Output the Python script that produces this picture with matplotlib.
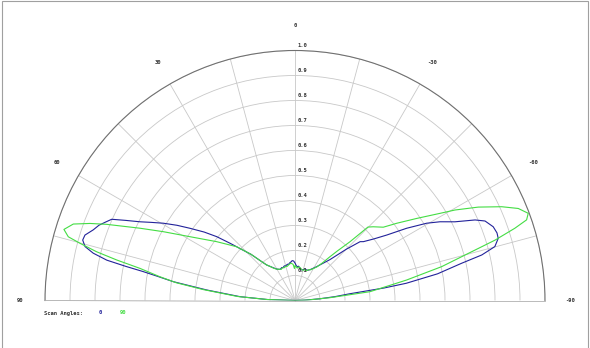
import numpy as np
import matplotlib
matplotlib.use("Agg")
import matplotlib.pyplot as plt
from matplotlib.patches import Rectangle

# scan angle 0 (blue): angle in degrees, relative intensity
theta_0 = [-90, -88, -86, -84.5, -83, -82, -81.2, -79.4, -77.4, -76.3, -74.9, -73.0, -71.5,
           -69.6, -67.3, -65.9, -63.8, -61.5, -59.6, -57.1, -54.5, -52, -49.3, -47.9, -45,
           -40.5, -36, -32.7, -30, -27, -24, -21, -18, -15, -12, -9, -6, -4, -2, 0,
           2, 4, 6, 8, 10, 12, 15, 17, 20, 22, 25, 27, 30, 33, 36, 38.6, 41, 43.6,
           46.5, 48.6, 50.8, 53, 55.5, 57.5, 59.6, 61.5, 63.1, 64.7, 66.1, 67.5, 69,
           70.7, 72.7, 74.1, 75.6, 76.8, 77.9, 78.6, 79.2, 80, 81.2, 83.2, 86, 88, 90]
r_0 = [0, 0.04, 0.1, 0.16, 0.22, 0.36, 0.45, 0.58, 0.683, 0.769, 0.828, 0.85, 0.852,
       0.846, 0.824, 0.789, 0.713, 0.66, 0.611, 0.532, 0.451, 0.40, 0.361, 0.351, 0.29,
       0.215, 0.18, 0.161, 0.15, 0.14, 0.133, 0.13, 0.133, 0.128, 0.125, 0.13, 0.138, 0.135, 0.14, 0.15,
       0.158, 0.16, 0.155, 0.152, 0.147, 0.148, 0.143, 0.145, 0.14, 0.142, 0.138, 0.14, 0.145, 0.155, 0.168, 0.182, 0.21, 0.255,
       0.30, 0.346, 0.404, 0.455, 0.51, 0.56, 0.611, 0.655, 0.696, 0.75, 0.802, 0.82, 0.84,
       0.855, 0.88, 0.883, 0.867, 0.829, 0.77, 0.69, 0.62, 0.56, 0.493, 0.356, 0.221, 0.11, 0]

# scan angle 90 (green)
theta_90 = [-90, -88, -85.4, -83.3, -79.6, -77, -74.8, -73.2, -71.8, -70.8, -69.5, -67.6,
            -65.6, -63, -60.5, -59, -56, -52.8, -50.3, -46.7, -44.8, -43.1, -40.5, -38.6,
            -36, -33, -30, -27, -24, -21, -18, -15, -12, -9, -6, -4, -2, 0, 1, 3, 6, 8,
            10, 13, 15, 18, 21, 24, 27, 30, 33, 36, 38.6, 41, 43.6, 47.3, 53.1, 58.7, 62.4,
            65.0, 67.97, 69.4, 70.97, 72.9, 74.3, 75.1, 76.2, 77.2, 78.3, 80, 81.5, 83.2, 86, 88, 90]
r_90 = [0, 0.05, 0.14, 0.302, 0.454, 0.602, 0.718, 0.836, 0.926, 0.981, 0.996, 0.966,
        0.908, 0.823, 0.735, 0.677, 0.587, 0.511, 0.459, 0.43, 0.414, 0.322, 0.26, 0.224,
        0.185, 0.16, 0.148, 0.138, 0.135, 0.128, 0.13, 0.125, 0.127, 0.133, 0.135, 0.13, 0.135, 0.14, 0.128, 0.145, 0.15, 0.148,
        0.145, 0.14, 0.142, 0.138, 0.14, 0.136, 0.14, 0.145, 0.153, 0.168, 0.182, 0.21, 0.255, 0.317, 0.392, 0.491, 0.594,
        0.684, 0.812, 0.876, 0.938, 0.967, 0.942, 0.89, 0.817, 0.731, 0.633, 0.55, 0.48, 0.37, 0.23, 0.11, 0]

r_ticks = [0.1, 0.2, 0.3, 0.4, 0.5, 0.6, 0.7, 0.8, 0.9, 1.0]
angle_labels = [0, 30, 60, 90, -30, -60, -90]

blue = '#22229a'
green = '#44dd44'
txt = dict(fontsize=4, family='DejaVu Sans Mono', fontweight='bold', color='#333333')

fig = plt.figure(figsize=(5.9, 3.48), dpi=100)
# square box: the half-disc is fitted into its middle band
ax = fig.add_axes([45 / 590, -77.5 / 348, 500 / 590, 500 / 348], projection='polar')
ax.set_theta_zero_location('N')
ax.set_theta_direction(1)
ax.set_thetamin(-90)
ax.set_thetamax(90)
ax.set_ylim(0, 1)

ax.set_xticks(np.deg2rad(np.arange(-90, 91, 15)))
ax.set_xticklabels([])
ax.set_yticks(r_ticks)
ax.set_yticklabels([])
ax.grid(color='#c8c8c8', linewidth=0.6)
ax.spines['polar'].set_color('#707070')
ax.spines['polar'].set_linewidth(0.8)
ax.spines['start'].set_color('#b0b0b0')
ax.spines['end'].set_color('#b0b0b0')
ax.spines['start'].set_linewidth(0.6)
ax.spines['end'].set_linewidth(0.6)

ax.plot(np.deg2rad(theta_0), r_0, color=blue, linewidth=0.8)
ax.plot(np.deg2rad(theta_90), r_90, color=green, linewidth=0.8)

for r in r_ticks:
    ax.annotate('%.1f' % r, xy=(0, r), xytext=(2, 3.5), textcoords='offset points',
                ha='left', va='center', **txt)
for a in angle_labels:
    ax.text(np.deg2rad(a), 1.1, str(a), ha='center', va='center', **txt)

fig.text(44 / 590, 1 - 313 / 348, 'Scan Angles:', ha='left', va='center', **txt)
fig.text(100 / 590, 1 - 313 / 348, '0', ha='center', va='center',
         fontsize=4, family='DejaVu Sans Mono', fontweight='bold', color=blue)
fig.text(123 / 590, 1 - 313 / 348, '90', ha='center', va='center',
         fontsize=4, family='DejaVu Sans Mono', fontweight='bold', color=green)

fig.add_artist(Rectangle((2 / 590, -0.01), 586 / 590, 347.5 / 348 + 0.01,
                         transform=fig.transFigure, fill=False,
                         edgecolor='#a0a0a0', linewidth=0.8))

fig.savefig('out.png', dpi=100)
